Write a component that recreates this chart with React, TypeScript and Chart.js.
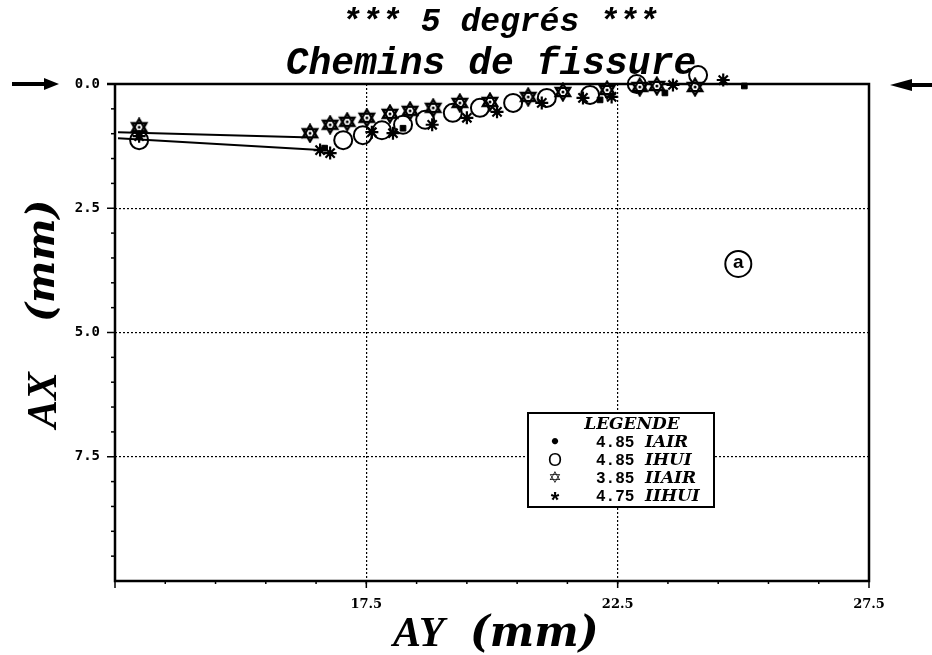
import React, { useEffect, useRef } from "react";
import { Chart, registerables } from "chart.js";

Chart.register(...registerables);

// ---------- data ----------
const X_MIN = 12.5;
const X_MAX = 27.5;
const Y_MIN = 0;
const Y_MAX = 10;
const xTickLabels = ["17.5", "22.5", "27.5"];
const yTickLabels = ["0.0", "2.5", "5.0", "7.5"];
const xGridValues = [17.5, 22.5];
const yGridValues = [2.5, 5.0, 7.5];

const titleLine1 = "*** 5 degrés ***";
const titleLine2 = "Chemins de fissure";
const xTitleMain = "AY";
const yTitleMain = "AX";
const unitText = "(mm)";
const legendTitle = "LEGENDE";
const legendSymbols = ["•", "O", "✡", "*"];
const legendValues = ["4.85", "4.85", "3.85", "4.75"];
const legendNames = ["IAIR", "IHUI", "IIAIR", "IIHUI"];
const annotationText = "a";

// IAIR (filled squares)
const iairX = [12.98, 16.67, 18.23, 22.15, 23.44, 25.02];
const iairY = [1.05, 1.29, 0.89, 0.32, 0.18, 0.04];

// IHUI (open circles)
const ihuiX = [12.98, 17.04, 17.43, 17.81, 18.23, 18.67, 19.22, 19.76, 20.42, 21.09, 21.95, 22.88, 24.1];
const ihuiY = [1.13, 1.13, 1.03, 0.93, 0.82, 0.72, 0.58, 0.48, 0.38, 0.28, 0.22, 0.0, -0.18];

// IIAIR (six-point stars)
const iiairX = [12.98, 16.38, 16.78, 17.12, 17.51, 17.97, 18.37, 18.83, 19.36, 19.96, 20.72, 21.41, 22.29, 22.94, 23.28, 24.04];
const iiairY = [0.87, 0.99, 0.82, 0.76, 0.68, 0.6, 0.54, 0.48, 0.38, 0.36, 0.26, 0.16, 0.12, 0.06, 0.04, 0.06];

// IIHUI (asterisks)
const iihuiX = [12.98, 16.58, 16.78, 17.61, 18.03, 18.81, 19.5, 20.1, 20.99, 21.81, 22.38, 23.6, 24.6];
const iihuiY = [1.05, 1.33, 1.39, 0.97, 0.99, 0.82, 0.68, 0.56, 0.38, 0.28, 0.26, 0.02, -0.08];

// connecting paths from the notch
const upperPathX = [12.56, 16.24];
const upperPathY = [0.97, 1.07];
const lowerPathX = [12.56, 16.58];
const lowerPathY = [1.09, 1.33];

// annotation position (data units)
const annotX = [24.9];
const annotY = [3.62];

const zip = (xs: number[], ys: number[]) => xs.map((x, i) => ({ x, y: ys[i] }));

function makeStarCanvas(): HTMLCanvasElement {
  const c = document.createElement("canvas");
  c.width = 20;
  c.height = 20;
  const g = c.getContext("2d")!;
  const cx = 10, cy = 10, R = 8.3;
  const tri = (a0: number) => {
    g.beginPath();
    for (let k = 0; k < 3; k++) {
      const a = ((a0 + k * 120) * Math.PI) / 180;
      const px = cx + R * Math.cos(a);
      const py = cy + R * Math.sin(a);
      if (k === 0) g.moveTo(px, py);
      else g.lineTo(px, py);
    }
    g.closePath();
  };
  g.fillStyle = "#fff";
  tri(-90); g.fill();
  tri(90); g.fill();
  g.strokeStyle = "#000";
  g.lineWidth = 2.3;
  g.lineJoin = "miter";
  tri(-90); g.stroke();
  tri(90); g.stroke();
  g.fillStyle = "#000";
  g.beginPath();
  g.arc(cx, cy, 1.5, 0, Math.PI * 2);
  g.fill();
  return c;
}

const decorPlugin = {
  id: "decor",
  beforeDatasetsDraw(chart: any) {
    const { ctx, chartArea: ca, scales } = chart;
    const xs = scales.x;
    const ys = scales.y;
    ctx.save();
    ctx.strokeStyle = "#000";
    ctx.lineCap = "butt";
    // frame
    ctx.lineWidth = 2.5;
    ctx.beginPath();
    ctx.moveTo(ca.left - 8, ca.top);
    ctx.lineTo(ca.right, ca.top);
    ctx.lineTo(ca.right, ca.bottom);
    ctx.lineTo(ca.left, ca.bottom);
    ctx.lineTo(ca.left, ca.top);
    ctx.stroke();
    // y ticks
    ctx.lineWidth = 1.5;
    for (let v = 0.5; v < Y_MAX; v += 0.5) {
      const py = ys.getPixelForValue(v);
      const major = Math.abs(v / 2.5 - Math.round(v / 2.5)) < 1e-6;
      ctx.beginPath();
      ctx.moveTo(ca.left - (major ? 8 : 4), py);
      ctx.lineTo(ca.left, py);
      ctx.stroke();
    }
    // x ticks
    for (let v = X_MIN; v <= X_MAX + 1e-6; v += 5) {
      const px = xs.getPixelForValue(v);
      ctx.beginPath();
      ctx.moveTo(px, ca.bottom);
      ctx.lineTo(px, ca.bottom + 7);
      ctx.stroke();
    }
    for (let v = X_MIN + 1; v < X_MAX; v += 1) {
      const px = xs.getPixelForValue(v);
      ctx.beginPath();
      ctx.moveTo(px, ca.bottom);
      ctx.lineTo(px, ca.bottom + 3);
      ctx.stroke();
    }
    ctx.restore();
  },
  afterDraw(chart: any) {
    const { ctx, chartArea: ca, scales } = chart;
    const xs = scales.x;
    const ys = scales.y;
    ctx.save();
    ctx.fillStyle = "#000";
    ctx.strokeStyle = "#000";

    // titles
    ctx.textAlign = "center";
    ctx.textBaseline = "alphabetic";
    ctx.font = "italic bold 33px 'Liberation Mono', 'DejaVu Sans Mono', monospace";
    ctx.fillText(titleLine1, 500, 31);
    ctx.font = "italic bold 38px 'Liberation Mono', 'DejaVu Sans Mono', monospace";
    ctx.fillText(titleLine2, 491, 74);

    // arrows
    const yTop = ca.top;
    ctx.lineWidth = 4;
    ctx.beginPath();
    ctx.moveTo(12, yTop);
    ctx.lineTo(46, yTop);
    ctx.stroke();
    ctx.beginPath();
    ctx.moveTo(44, yTop - 6);
    ctx.lineTo(59, yTop);
    ctx.lineTo(44, yTop + 6);
    ctx.closePath();
    ctx.fill();
    ctx.beginPath();
    ctx.moveTo(908, yTop + 1);
    ctx.lineTo(932, yTop + 1);
    ctx.stroke();
    ctx.beginPath();
    ctx.moveTo(912, yTop - 5);
    ctx.lineTo(890, yTop + 1);
    ctx.lineTo(912, yTop + 7);
    ctx.closePath();
    ctx.fill();

    // x axis title
    ctx.textAlign = "left";
    ctx.font = "italic bold 42px 'Liberation Serif', 'DejaVu Serif', serif";
    ctx.fillText(xTitleMain, 393, 646);
    ctx.font = "italic bold 42px 'DejaVu Serif', 'Liberation Serif', serif";
    ctx.fillText(unitText, 470, 646);

    // y axis title
    ctx.save();
    ctx.translate(56, 428);
    ctx.rotate(-Math.PI / 2);
    ctx.textAlign = "left";
    ctx.font = "italic bold 42px 'Liberation Serif', 'DejaVu Serif', serif";
    ctx.fillText(yTitleMain, 0, 0);
    ctx.font = "italic bold 40px 'DejaVu Serif', 'Liberation Serif', serif";
    ctx.fillText(unitText, 106, -2);
    ctx.restore();

    // circled annotation
    const ax = xs.getPixelForValue(annotX[0]);
    const ay = ys.getPixelForValue(annotY[0]);
    ctx.lineWidth = 2;
    ctx.beginPath();
    ctx.arc(ax, ay, 13, 0, Math.PI * 2);
    ctx.stroke();
    ctx.textAlign = "center";
    ctx.textBaseline = "middle";
    ctx.font = "bold 19px 'Liberation Sans', 'DejaVu Sans', sans-serif";
    ctx.fillText(annotationText, ax, ay - 1);

    // legend box
    const bx = 528, by = 413, bw = 186, bh = 94;
    ctx.fillStyle = "#fff";
    ctx.fillRect(bx, by, bw, bh);
    ctx.fillStyle = "#000";
    ctx.lineWidth = 2;
    ctx.strokeRect(bx, by, bw, bh);
    ctx.textBaseline = "middle";
    ctx.textAlign = "center";
    ctx.font = "italic bold 17px 'DejaVu Serif', 'Liberation Serif', serif";
    ctx.fillText(legendTitle, 632, 425);
    const rowY = [443, 461, 479, 497];
    const symFonts = [
      "bold 18px 'DejaVu Sans', sans-serif",
      "18px 'Liberation Sans', 'DejaVu Sans', sans-serif",
      "bold 16px 'DejaVu Sans', sans-serif",
      "bold 22px 'Liberation Sans', 'DejaVu Sans', sans-serif",
    ];
    for (let i = 0; i < legendNames.length; i++) {
      ctx.textAlign = "center";
      ctx.font = symFonts[i];
      ctx.fillText(legendSymbols[i], 555, rowY[i] + (i === 3 ? 4 : 0));
      ctx.textAlign = "left";
      ctx.font = "bold 16px 'Liberation Mono', 'DejaVu Sans Mono', monospace";
      ctx.fillText(legendValues[i], 596, rowY[i]);
      ctx.font = "italic bold 17px 'DejaVu Serif', 'Liberation Serif', serif";
      ctx.fillText(legendNames[i], 645, rowY[i]);
    }
    ctx.restore();
  },
};

export default function App() {
  const canvasRef = useRef<HTMLCanvasElement | null>(null);

  useEffect(() => {
    const canvas = canvasRef.current;
    if (!canvas) return;
    const starImg = makeStarCanvas();
    const common = { clip: false as any, showLine: false };
    const chart = new Chart(canvas, {
      type: "scatter",
      data: {
        datasets: [
          {
            label: "upper",
            data: zip(upperPathX, upperPathY),
            showLine: true,
            borderColor: "#000",
            borderWidth: 2,
            pointRadius: 0,
            clip: false as any,
          },
          {
            label: "lower",
            data: zip(lowerPathX, lowerPathY),
            showLine: true,
            borderColor: "#000",
            borderWidth: 2,
            pointRadius: 0,
            clip: false as any,
          },
          {
            label: legendNames[0],
            data: zip(iairX, iairY),
            pointStyle: "rect",
            pointRadius: 4,
            backgroundColor: "#000",
            borderColor: "#000",
            borderWidth: 1,
            ...common,
          },
          {
            label: legendNames[1],
            data: zip(ihuiX, ihuiY),
            pointStyle: "circle",
            pointRadius: 9,
            backgroundColor: "rgba(255,255,255,0)",
            borderColor: "#000",
            borderWidth: 2,
            ...common,
          },
          {
            label: legendNames[2],
            data: zip(iiairX, iiairY),
            pointStyle: starImg as any,
            pointRadius: 9,
            ...common,
          },
          {
            label: legendNames[3],
            data: zip(iihuiX, iihuiY),
            pointStyle: "star",
            pointRadius: 6.5,
            borderColor: "#000",
            borderWidth: 2.2,
            ...common,
          },
        ],
      },
      options: {
        responsive: false,
        animation: false,
        devicePixelRatio: 1,
        layout: { padding: { top: 84, right: 63, left: 0, bottom: 0 } },
        plugins: {
          legend: { display: false },
          title: { display: false },
          tooltip: { enabled: false },
        },
        scales: {
          x: {
            type: "linear",
            min: X_MIN,
            max: X_MAX,
            position: "bottom",
            ticks: {
              stepSize: 5,
              padding: 16,
              color: "#000",
              maxRotation: 0,
              autoSkip: false,
              font: { family: "'DejaVu Serif', serif", weight: "bold", size: 13 },
              callback: (v: any) => {
                const s = Number(v).toFixed(1);
                return xTickLabels.includes(s) ? s : "";
              },
            },
            grid: {
              drawTicks: false,
              lineWidth: 1.2,
              color: (c: any) =>
                c.tick && xGridValues.some((g) => Math.abs(g - c.tick.value) < 1e-6) ? "#000" : "rgba(0,0,0,0)",
            },
            border: { display: false, dash: [2, 2] },
            afterFit: (s: any) => {
              s.height = 74;
            },
          },
          y: {
            type: "linear",
            min: Y_MIN,
            max: Y_MAX,
            reverse: true,
            ticks: {
              stepSize: 2.5,
              padding: 15,
              color: "#000",
              autoSkip: false,
              font: { family: "'DejaVu Sans Mono', monospace", weight: "bold", size: 14 },
              callback: (v: any) => {
                const s = Number(v).toFixed(1);
                return yTickLabels.includes(s) ? s : "";
              },
            },
            grid: {
              drawTicks: false,
              lineWidth: 1.2,
              color: (c: any) =>
                c.tick && yGridValues.some((g) => Math.abs(g - c.tick.value) < 1e-6) ? "#000" : "rgba(0,0,0,0)",
            },
            border: { display: false, dash: [2, 2] },
            afterFit: (s: any) => {
              s.width = 115;
            },
          },
        },
      } as any,
      plugins: [decorPlugin],
    });
    return () => chart.destroy();
  }, []);

  return (
    <div style={{ position: "absolute", left: 0, top: 0, width: 932, height: 655, background: "#fff" }}>
      <canvas ref={canvasRef} width={932} height={655} style={{ display: "block", width: 932, height: 655 }} />
    </div>
  );
}
